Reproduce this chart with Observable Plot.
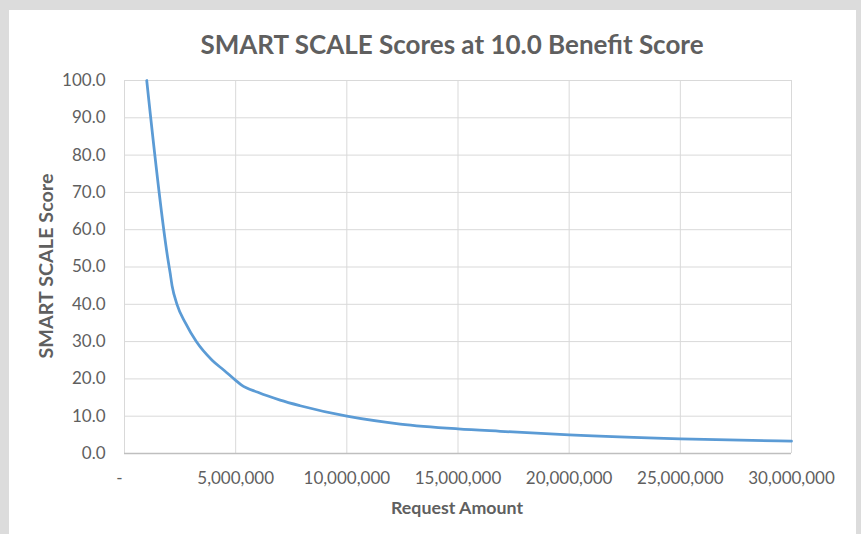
<!DOCTYPE html>
<html>
<head>
<meta charset="utf-8">
<script src="https://cdn.jsdelivr.net/npm/d3@7"></script>
<script src="https://cdn.jsdelivr.net/npm/@observablehq/plot@0.6"></script>
<style>
  html, body { margin: 0; padding: 0; }
  body { width: 861px; height: 534px; overflow: hidden; position: relative; background: #dcdcdc; font-family: Lato, "Open Sans", sans-serif; }
  #card { position: absolute; left: 9px; top: 10px; width: 847px; height: 524px; background: #ffffff; }
  #chart { position: absolute; left: 0; top: 0; }
  #title { position: absolute; left: 152px; width: 600px; top: 27px; text-align: center; font-size: 26px; font-weight: 700; color: #5f5f5f; line-height: 34px; }
  #xtitle { position: absolute; left: 257px; width: 400px; top: 496px; text-align: center; font-size: 17.8px; font-weight: 700; color: #5f5f5f; line-height: 22px; }
  #ytitle { position: absolute; left: 45px; top: 266px; width: 300px; margin-left: -150px; margin-top: -11px; text-align: center; font-size: 19.8px; font-weight: 700; color: #5f5f5f; line-height: 22px; transform: rotate(-90deg); }
</style>
</head>
<body>
<div id="card"></div>
<div id="chart"></div>
<div id="title">SMART SCALE Scores at 10.0 Benefit Score</div>
<div id="ytitle">SMART SCALE Score</div>
<div id="xtitle">Request Amount</div>
<script>
// Request amounts (x) and SMART SCALE scores (y)
const requestAmount = [1.0e6, 1.96e6, 2.05e6, 2.14e6, 2.36e6, 2.74e6, 3.23e6, 3.94e6, 4.5e6, 5.0e6, 5.25e6, 6.0e6, 7.0e6, 7.9e6, 10.0e6, 12.4e6, 15.0e6, 16.9e6, 20.0e6, 25.0e6, 30.0e6];
const smartScaleScore = [100, 51.8, 48.5, 45, 40, 35, 30, 25, 22.2, 19.6, 18.4, 16.4, 14.3, 12.8, 10, 7.9, 6.6, 5.95, 5.0, 3.95, 3.3];

// Axis ticks
const xTicks = [0, 5e6, 10e6, 15e6, 20e6, 25e6, 30e6];
const yTicks = [0, 10, 20, 30, 40, 50, 60, 70, 80, 90, 100];

const data = requestAmount.map((x, i) => ({x, y: smartScaleScore[i]}));
const fmtX = d => d === 0 ? "-" : d3.format(",")(d);

const chart = Plot.plot({
  width: 861,
  height: 534,
  marginLeft: 124,
  marginRight: 70,
  marginTop: 80,
  marginBottom: 81,
  style: { background: "transparent", fontFamily: "Lato, 'Open Sans', sans-serif", fontSize: "17px", color: "#5f5f5f" },
  x: { domain: [0, 30e6] },
  y: { domain: [0, 100] },
  marks: [
    Plot.gridX(xTicks, { stroke: "#d9d9d9", strokeOpacity: 1, strokeWidth: 1 }),
    Plot.gridY(yTicks, { stroke: "#d9d9d9", strokeOpacity: 1, strokeWidth: 1 }),
    Plot.ruleY([0], { stroke: "#bfbfbf", strokeWidth: 1.3 }),
    Plot.line(data, { x: "x", y: "y", stroke: "#5b9bd5", strokeWidth: 2.75, curve: "monotone-x" }),
    Plot.axisX(xTicks.slice(1), { tickSize: 0, tickPadding: 18, tickFormat: fmtX, label: null, fill: "#5f5f5f" }),
    Plot.axisX([0], { tickSize: 0, tickPadding: 18, tickFormat: fmtX, label: null, fill: "#5f5f5f", dx: -5 }),
    Plot.axisY(yTicks, { tickSize: 0, tickPadding: 19, tickFormat: d => d.toFixed(1), label: null, fill: "#5f5f5f" })
  ]
});
document.getElementById("chart").appendChild(chart);
</script>
</body>
</html>
